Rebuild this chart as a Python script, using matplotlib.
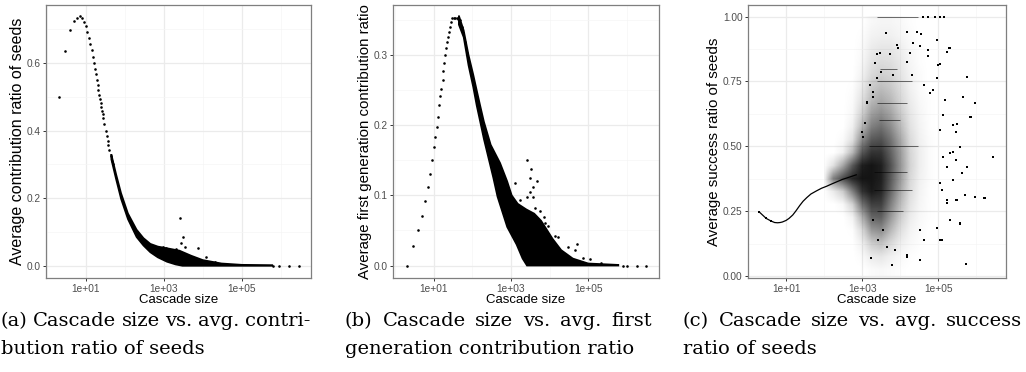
import numpy as np
import matplotlib
matplotlib.use('Agg')
import matplotlib.pyplot as plt
from matplotlib.colors import LinearSegmentedColormap
from matplotlib.ticker import FixedLocator, NullFormatter

# ---------------- (a) contribution ratio of seeds ----------------
a_curve_x = [2, 3, 4, 5, 6, 7, 8, 9, 10, 11, 12, 13, 14, 15, 16, 17, 18, 19, 20,
             21, 22, 23, 24, 25, 26, 27, 28, 30, 32, 34, 36, 38, 40, 43, 46, 50]
a_curve_y = [0.500, 0.635, 0.698, 0.724, 0.734, 0.738, 0.733, 0.722, 0.708, 0.690,
             0.672, 0.655, 0.638, 0.618, 0.600, 0.583, 0.566, 0.550, 0.535, 0.520,
             0.506, 0.494, 0.482, 0.470, 0.459, 0.448, 0.437, 0.418, 0.400, 0.385,
             0.370, 0.356, 0.343, 0.326, 0.311, 0.300]
# dense part of the cloud: upper and lower edge
a_top_x = [45, 60, 80, 120, 200, 300, 450, 700, 1200, 2500, 5000, 1e4, 3e4, 1e5, 6e5]
a_top_y = [0.33, 0.27, 0.215, 0.155, 0.107, 0.082, 0.065, 0.057, 0.052, 0.045,
           0.030, 0.017, 0.007, 0.003, 0.002]
a_bot_x = [45, 60, 80, 120, 200, 300, 450, 700, 1200, 2000, 3000, 6e5]
a_bot_y = [0.315, 0.255, 0.198, 0.138, 0.085, 0.060, 0.040, 0.025, 0.012, 0.004, 0.0, 0.0]
a_out_x = [955, 1150, 1660, 2000, 2570, 2750, 3020, 3470, 4600, 7600, 12300, 21000,
           6.2e5, 9.1e5, 1.6e6, 2.9e6]
a_out_y = [0.057, 0.052, 0.037, 0.050, 0.140, 0.067, 0.085, 0.057, 0.030, 0.054,
           0.027, 0.010, 0.0, 0.0, 0.0, 0.0]

# ---------------- (b) first generation contribution ratio ----------------
b_curve_x = [2, 3, 4, 5, 6, 7, 8, 9, 10, 11, 12, 13, 14, 15, 16, 17, 18, 19, 20,
             21, 22, 23, 25, 26, 28, 30, 33, 36, 40, 44, 48, 53, 58, 64, 74, 87,
             106, 130, 158, 192]
b_curve_y = [0.000, 0.028, 0.050, 0.071, 0.092, 0.112, 0.130, 0.150, 0.169, 0.183,
             0.197, 0.212, 0.228, 0.242, 0.252, 0.264, 0.277, 0.289, 0.300, 0.310,
             0.318, 0.325, 0.333, 0.340, 0.347, 0.352, 0.353, 0.353, 0.352, 0.351,
             0.349, 0.340, 0.331, 0.319, 0.302, 0.283, 0.260, 0.236, 0.212, 0.189]
b_top_x = [45, 60, 80, 106, 130, 160, 200, 300, 525, 800, 1050, 1500, 2500, 4000,
           6000, 8500, 12000, 20000, 40000, 1e5, 6e5]
b_top_y = [0.356, 0.335, 0.300, 0.272, 0.250, 0.228, 0.205, 0.172, 0.146, 0.120,
           0.100, 0.088, 0.080, 0.074, 0.064, 0.051, 0.038, 0.022, 0.010, 0.003, 0.001]
b_bot_x = [45, 60, 80, 106, 130, 160, 200, 250, 350, 450, 800, 1400, 2000, 2600, 6e5]
b_bot_y = [0.343, 0.325, 0.285, 0.254, 0.228, 0.205, 0.180, 0.158, 0.125, 0.098,
           0.055, 0.030, 0.010, 0.0, 0.0]
b_out_x = [1260, 1700, 2630, 2630, 3100, 3100, 3300, 3630, 3800, 4170, 4800, 5600,
           7100, 7600, 9300, 13800, 16600, 30000, 46000, 52000, 74000, 110000, 220000,
           8.0e5, 9.8e5, 1.8e6, 3.2e6]
b_out_y = [0.118, 0.094, 0.150, 0.098, 0.125, 0.105, 0.137, 0.112, 0.098, 0.082,
           0.120, 0.077, 0.069, 0.061, 0.056, 0.042, 0.041, 0.027, 0.022, 0.030,
           0.011, 0.009, 0.004, 0.0, 0.0, 0.0, 0.0]

# ---------------- (c) success ratio of seeds ----------------
c_curve_x = [2, 3, 4, 5, 6, 7, 8, 10, 12, 15, 18, 23, 28, 35, 45, 63, 85, 117, 160,
             215, 300, 400, 700]
c_curve_y = [0.246, 0.222, 0.212, 0.206, 0.205, 0.206, 0.208, 0.214, 0.222, 0.235,
             0.250, 0.272, 0.288, 0.302, 0.316, 0.328, 0.338, 0.346, 0.355, 0.363,
             0.372, 0.378, 0.390]
# how dark the point cloud looks (percent), rows from ratio 0.975 down to 0.025
c_fog_x = [100, 178, 316, 562, 1000, 1778, 3162, 5623, 1e4, 17783, 31623, 56234, 1e5,
           177828]
c_fog = [
    [0, 0, 0, 0, 0, 3, 4, 4, 3, 1, 0, 0, 0, 0],
    [0, 0, 0, 0, 1, 5, 6, 6, 4, 2, 0, 0, 0, 0],
    [0, 0, 0, 0, 2, 8, 10, 10, 7, 3, 1, 0, 0, 0],
    [0, 0, 0, 0, 3, 11, 14, 13, 9, 4, 1, 0, 0, 0],
    [0, 0, 0, 0, 5, 15, 19, 17, 11, 5, 2, 0, 0, 0],
    [0, 0, 0, 1, 8, 21, 26, 22, 14, 6, 2, 0, 0, 0],
    [0, 0, 0, 2, 12, 28, 34, 28, 17, 8, 3, 1, 0, 0],
    [0, 0, 0, 3, 18, 38, 44, 36, 22, 10, 4, 1, 0, 0],
    [0, 0, 0, 6, 28, 50, 56, 45, 28, 12, 5, 1, 0, 0],
    [0, 0, 2, 12, 45, 65, 68, 55, 35, 15, 6, 2, 0, 0],
    [0, 0, 6, 28, 65, 80, 80, 62, 40, 17, 7, 2, 0, 0],
    [0, 12, 35, 65, 88, 92, 88, 68, 42, 18, 7, 2, 0, 0],
    [0, 50, 70, 85, 92, 92, 88, 65, 40, 16, 6, 2, 0, 0],
    [0, 8, 20, 50, 80, 90, 85, 60, 34, 14, 5, 1, 0, 0],
    [0, 0, 3, 18, 55, 75, 75, 50, 27, 11, 4, 1, 0, 0],
    [0, 0, 0, 5, 30, 60, 62, 40, 20, 8, 3, 1, 0, 0],
    [0, 0, 0, 1, 14, 40, 45, 28, 13, 5, 2, 0, 0, 0],
    [0, 0, 0, 0, 6, 20, 25, 15, 7, 3, 1, 0, 0, 0],
    [0, 0, 0, 0, 2, 8, 10, 6, 3, 1, 0, 0, 0, 0],
    [0, 0, 0, 0, 0, 2, 3, 2, 1, 0, 0, 0, 0, 0],
]
# ratios that many cascades hit exactly (seen as horizontal streaks)
c_streak_y = [1.0, 0.8, 0.75, 0.667, 0.6, 0.5, 0.4, 0.333, 0.25]
c_streak_x0 = [2500, 3000, 2500, 2500, 2800, 1500, 2000, 2000, 2500]
c_streak_x1 = [3.0e4, 8000, 2.0e4, 1.5e4, 1.0e4, 3.0e4, 1.5e4, 2.0e4, 1.2e4]
c_out_x = [2.7e4, 3.5e4, 9.5e4, 1.95e5, 1.0e5, 5.6e5, 9.3e5, 4.6e5, 7.4e5, 3.2e5,
           2.8e6, 1.6e6, 9.5e5, 3.2e5, 5.4e5, 3.7e5, 1.23e5, 1660, 6000, 1.48e4,
           3.3e4, 9.1e4, 1.66e5, 2.45e5, 3.7e5, 1.1e5, 1.5e5, 7.4e4, 5.5e4, 8100,
           4200, 2950, 2400, 1950, 1320, 1170, 2.2e4, 1.8e4,
           4.0e4, 5.5e4, 8.0e4, 1.1e5, 1.4e5,
           1.48e4, 8900, 3.3e4, 2.0e5, 2400, 5400, 5.5e4, 1.66e5, 2200, 1.48e4,
           1.1e5, 3200, 6600, 2.0e4, 9.1e4, 1620, 4.1e4, 1950, 6.0e4, 1320,
           1.35e5, 2.45e5, 6.8e5, 3.0e5, 980, 1070,
           1950, 3600, 2630, 4400, 7200, 1.48e4, 1660, 3.3e4, 4.1e4, 1.1e5,
           2.0e5, 3.7e5, 3.0e5, 1.66e5, 5.0e5, 1.7e6, 1.1e5, 2.45e5, 4.1e5, 1.66e5,
           3.0e5, 5.6e5, 1.35e5, 2.0e5, 1.23e5]
c_out_y = [0.94, 0.932, 0.91, 0.878, 0.814, 0.766, 0.666, 0.69, 0.612, 0.586,
           0.46, 0.30, 0.306, 0.293, 0.045, 0.20, 0.139, 0.071, 0.042, 0.074,
           0.177, 0.184, 0.293, 0.479, 0.499, 0.563, 0.679, 0.717, 0.871, 0.891,
           0.936, 0.859, 0.762, 0.691, 0.666, 0.589, 0.897, 0.859,
           1.0, 1.0, 1.0, 1.0, 1.0,
           0.94, 0.878, 0.888, 0.878, 0.855, 0.855, 0.85, 0.863, 0.82, 0.826,
           0.816, 0.788, 0.775, 0.775, 0.765, 0.737, 0.737, 0.708, 0.705, 0.67,
           0.621, 0.582, 0.614, 0.556, 0.556, 0.537,
           0.216, 0.177, 0.139, 0.113, 0.10, 0.081, 0.068, 0.062, 0.139, 0.139,
           0.216, 0.203, 0.293, 0.28, 0.312, 0.30, 0.357, 0.37, 0.396, 0.42,
           0.447, 0.42, 0.46, 0.473, 0.332]

captions = [
    ["(a) Cascade size vs. avg. contri-", "bution ratio of seeds"],
    ["(b) Cascade size vs. avg. first", "generation contribution ratio"],
    ["(c) Cascade size vs. avg. success", "ratio of seeds"],
]

plt.rcParams['font.family'] = ['Liberation Sans', 'DejaVu Sans']

fig = plt.figure(figsize=(10.26, 3.72), dpi=100)
ax_a = fig.add_axes([46 / 1026, 94 / 372, 265 / 1026, 273 / 372])
ax_b = fig.add_axes([393 / 1026, 94 / 372, 266 / 1026, 273 / 372])
ax_c = fig.add_axes([748 / 1026, 94 / 372, 258 / 1026, 273 / 372])


def style(ax, ylabel, ymaj, ymin, ylabels, xlim, ylim, ysize=10.8):
    ax.set_xscale('log')
    ax.set_xlim(*xlim)
    ax.set_ylim(*ylim)
    ax.set_xticks([10, 1e3, 1e5])
    ax.set_xticklabels(['1e+01', '1e+03', '1e+05'])
    ax.xaxis.set_minor_locator(FixedLocator([1, 100, 1e4, 1e6]))
    ax.xaxis.set_minor_formatter(NullFormatter())
    ax.set_yticks(ymaj)
    ax.set_yticklabels(ylabels)
    ax.yaxis.set_minor_locator(FixedLocator(ymin))
    ax.set_axisbelow(True)
    ax.grid(which='major', color='#EBEBEB', lw=0.9)
    ax.grid(which='minor', color='#F5F5F5', lw=0.5)
    ax.tick_params(which='major', length=2.5, width=0.7, color='#333333',
                   labelcolor='#4D4D4D', labelsize=7.3, pad=1.5)
    ax.tick_params(which='minor', length=0)
    for s in ax.spines.values():
        s.set_color('#7F7F7F')
        s.set_linewidth(0.9)
    ax.set_xlabel('Cascade size', fontsize=9.5, labelpad=0)
    ax.set_ylabel(ylabel, fontsize=ysize, labelpad=1)


# (a)
ax_a.fill(np.concatenate([a_top_x, a_bot_x[::-1]]),
          np.concatenate([a_top_y, a_bot_y[::-1]]),
          color='black', lw=1.2, ec='black')
ax_a.scatter(a_curve_x, a_curve_y, s=3.5, color='black', lw=0)
ax_a.scatter(a_out_x, a_out_y, s=3.5, color='black', lw=0)
style(ax_a, 'Average contribution ratio of seeds',
      [0, 0.2, 0.4, 0.6], [0.1, 0.3, 0.5, 0.7], ['0.0', '0.2', '0.4', '0.6'],
      (10 ** -0.02, 10 ** 6.77), (-0.036, 0.771), ysize=11.5)

# (b)
ax_b.fill(np.concatenate([b_top_x, b_bot_x[::-1]]),
          np.concatenate([b_top_y, b_bot_y[::-1]]),
          color='black', lw=1.2, ec='black')
ax_b.scatter(b_curve_x, b_curve_y, s=3.5, color='black', lw=0)
ax_b.scatter(b_out_x, b_out_y, s=3.5, color='black', lw=0)
style(ax_b, 'Average first generation contribution ratio',
      [0, 0.1, 0.2, 0.3], [0.05, 0.15, 0.25, 0.35], ['0.0', '0.1', '0.2', '0.3'],
      (10 ** -0.05, 10 ** 6.83), (-0.0177, 0.371))

# (c)
c_xlim = (10 ** 0.0, 10 ** 6.78)
c_ylim = (-0.008, 1.045)
ax_c.plot(c_curve_x, c_curve_y, color='black', lw=0.9, zorder=3)
ax_c.scatter(c_curve_x[:3], c_curve_y[:3], s=1.2, marker='s', color='black', lw=0, zorder=3)
ax_c.hlines(c_streak_y, c_streak_x0, c_streak_x1, color='#1a1a1a', lw=0.5,
            alpha=0.85, zorder=3)
ax_c.scatter(c_out_x, c_out_y, s=1.1, marker='s', color='black', lw=0, zorder=3)
style(ax_c, 'Average success ratio of seeds',
      [0, 0.25, 0.5, 0.75, 1.0], [0.125, 0.375, 0.625, 0.875],
      ['0.00', '0.25', '0.50', '0.75', '1.00'], c_xlim, c_ylim)

# density of the cloud: transparent-to-black image on an overlay in log10 units
ink = LinearSegmentedColormap.from_list('ink', [(0, 0, 0, 0), (0, 0, 0, 1)])
fog_ax = fig.add_axes(ax_c.get_position(), frameon=False)
fog_ax.set_xlim(np.log10(c_xlim[0]), np.log10(c_xlim[1]))
fog_ax.set_ylim(*c_ylim)
fog_ax.set_axis_off()
lx = np.log10(c_fog_x)
step = lx[1] - lx[0]
fog_ax.imshow(np.array(c_fog), extent=[lx[0] - step / 2, lx[-1] + step / 2, 0.0, 1.0],
              origin='upper', cmap=ink, vmin=0, vmax=100,
              interpolation='bilinear', aspect='auto')

# captions under each panel; first lines are justified like the paper
renderer = fig.canvas.get_renderer()
cap_x0 = [1, 345, 683]
cap_x1 = [310, 652, 1022]
for x0, x1, lines in zip(cap_x0, cap_x1, captions):
    words = lines[0].split()
    texts = [fig.text(0, 1 - 321 / 372, w, fontsize=14, family='DejaVu Serif',
                      ha='left', va='center') for w in words]
    widths = [t.get_window_extent(renderer).width for t in texts]
    gap = (x1 - x0 - sum(widths)) / (len(words) - 1)
    pos = x0
    for t, w in zip(texts, widths):
        t.set_x(pos / 1026)
        pos += w + gap
    fig.text(x0 / 1026, 1 - 349 / 372, lines[1], fontsize=14, family='DejaVu Serif',
             ha='left', va='center')

fig.savefig('out.png', dpi=100)
